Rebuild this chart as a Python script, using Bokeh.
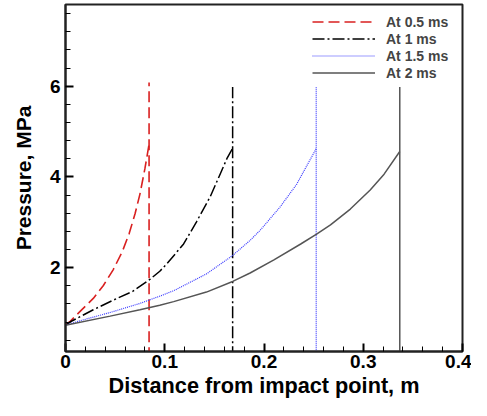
from bokeh.plotting import figure
from bokeh.models import FixedTicker, Range1d, Legend, LegendItem, CustomJSTickFormatter
from bokeh.embed import file_html
from bokeh.resources import INLINE

# ---- data ----
labels = ["At 0.5 ms", "At 1 ms", "At 1.5 ms", "At 2 ms"]

x_05 = [0.0, 0.005, 0.015, 0.028, 0.038, 0.048, 0.057, 0.064, 0.070, 0.075, 0.080, 0.0842]
p_05 = [0.74, 0.82, 1.04, 1.32, 1.60, 1.95, 2.34, 2.74, 3.18, 3.62, 4.18, 4.72]

x_10 = [0.0, 0.0045, 0.028, 0.048, 0.068, 0.085, 0.095, 0.102, 0.119, 0.132, 0.146, 0.156, 0.163, 0.1684]
p_10 = [0.73, 0.80, 1.07, 1.28, 1.48, 1.74, 1.92, 2.08, 2.52, 3.01, 3.57, 4.07, 4.42, 4.63]

x_15 = [0.0, 0.015, 0.045, 0.075, 0.095, 0.109, 0.142, 0.168, 0.186, 0.196, 0.216, 0.233, 0.243, 0.2526]
p_15 = [0.73, 0.83, 1.01, 1.21, 1.37, 1.49, 1.86, 2.26, 2.60, 2.82, 3.33, 3.84, 4.24, 4.62]

x_20 = [0.0, 0.045, 0.075, 0.095, 0.109, 0.142, 0.169, 0.186, 0.210, 0.237, 0.253, 0.267, 0.287, 0.307, 0.321, 0.3368]
p_20 = [0.73, 0.93, 1.07, 1.17, 1.25, 1.46, 1.70, 1.88, 2.17, 2.52, 2.74, 2.94, 3.29, 3.71, 4.06, 4.56]

front_x = [0.0842, 0.1684, 0.2526, 0.3368]
front_top = [6.08, 5.98, 6.0, 5.98]
front_bottom = 0.0

x_major = [0, 0.1, 0.2, 0.3, 0.4]
x_minor = [i * 0.02 for i in range(21)]
y_major = [2, 4, 6]
y_minor = [round(i * 0.4, 2) for i in range(1, 20)]

series_x = [x_05, x_10, x_15, x_20]
series_p = [p_05, p_10, p_15, p_20]
colors = ["#d92020", "#000000", "#3a3aff", "#555555"]
dashes = ["11 5", "12 3 2 3", "1 1", "solid"]
widths = [1.6, 1.5, 1.2, 1.5]

FONT = "Liberation Sans"

p = figure(width=471, height=400, output_backend="svg", toolbar_location=None,
           x_range=Range1d(0, 0.4), y_range=Range1d(0.15, 7.8),
           min_border_left=65, min_border_right=9, min_border_top=4, min_border_bottom=47)

p.xgrid.visible = False
p.ygrid.visible = False
p.background_fill_color = "white"
p.border_fill_color = "white"
p.outline_line_color = "#222222"
p.outline_line_width = 2

items = []
for xs, ps, c, d, w, fx, ft, lab in zip(series_x, series_p, colors, dashes, widths, front_x, front_top, labels):
    r = p.line(xs, ps, line_color=c, line_dash=d, line_width=w)
    p.segment(x0=[fx], y0=[front_bottom], x1=[fx], y1=[ft], line_color=c, line_dash=d, line_width=w)
    items.append(LegendItem(label=lab, renderers=[r]))

legend = Legend(items=items, location=(247, 270), padding=0, spacing=0,
                glyph_width=63, glyph_height=17, label_height=17, label_standoff=11,
                label_text_font=FONT, label_text_font_style="bold", label_text_font_size="14px",
                background_fill_alpha=0, border_line_alpha=0, margin=0)
p.add_layout(legend)

for ax in (p.xaxis[0], p.yaxis[0]):
    ax.axis_line_width = 2
    ax.axis_line_color = "#222222"
    ax.major_tick_in = 8
    ax.major_tick_out = 0
    ax.minor_tick_in = 5
    ax.minor_tick_out = 0
    ax.major_tick_line_width = 2
    ax.minor_tick_line_width = 1
    ax.major_label_text_font = FONT
    ax.major_label_text_font_style = "bold"
    ax.major_label_text_font_size = "19px"
    ax.major_label_text_color = "black"
    ax.axis_label_text_font = FONT
    ax.axis_label_text_font_style = "bold"
    ax.axis_label_text_color = "black"

p.xaxis.axis_label_text_font_size = "21.7px"
p.yaxis.axis_label_text_font_size = "21px"
p.xaxis.ticker = FixedTicker(ticks=x_major, minor_ticks=x_minor)
p.yaxis.ticker = FixedTicker(ticks=y_major, minor_ticks=y_minor)
p.xaxis.formatter = CustomJSTickFormatter(code="return tick == 0 ? '0' : tick.toFixed(1);")
p.xaxis.axis_label = "Distance from impact point, m"
p.yaxis.axis_label = "Pressure, MPa"
p.xaxis.major_label_standoff = 3
p.xaxis.axis_label_standoff = 2
p.yaxis.major_label_standoff = 5
p.yaxis.axis_label_standoff = 12

open("out.html", "w").write(file_html(p, INLINE))
